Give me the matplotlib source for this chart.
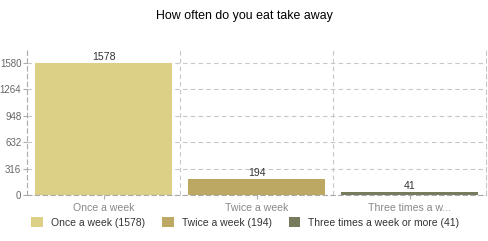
import matplotlib.pyplot as plt
import numpy as np
from matplotlib.patches import Patch

categories = ["Once a week", "Twice a week", "Three times a w..."]
legend_labels = ["Once a week (1578)", "Twice a week (194)", "Three times a week or more (41)"]
counts = [1578, 194, 41]
yticks = [0, 316, 632, 948, 1264, 1580]
colors = ["#DCCF86", "#BCA763", "#777A5C"]

plt.rcParams['font.family'] = ['Liberation Sans', 'DejaVu Sans']

fig = plt.figure(figsize=(4.89, 2.41), dpi=100)
ax = fig.add_axes([0.0552, 0.191, 0.9388, 0.61])

x = np.arange(len(counts))
bars = ax.bar(x, counts, width=0.9, color=colors, zorder=2)
for xi, v in zip(x, counts):
    ax.text(xi, v + 12, str(v), ha='center', va='bottom', fontsize=7.6, color='#333333', zorder=3)

ax.set_xlim(-0.5, len(counts) - 0.5)
ax.set_ylim(0, 1760)
ax.set_yticks(yticks)
ax.set_yticklabels([str(t) for t in yticks], fontsize=7.0, color='#666666')
ax.set_xticks(x)
ax.set_xticklabels(categories, fontsize=7.6, color='#888888')
ax.set_xticks(x[:-1] + 0.5, minor=True)
ax.tick_params(axis='x', which='minor', length=0)
ax.tick_params(axis='y', which='major', length=3, color='#aaaaaa', pad=1)
ax.tick_params(axis='x', which='major', length=3, color='#aaaaaa', pad=2.5)

ax.grid(axis='y', which='major', linestyle=(0, (4, 3)), color='#c8c8c8', linewidth=0.8, zorder=0)
ax.grid(axis='x', which='minor', linestyle=(0, (4, 3)), color='#c8c8c8', linewidth=0.8, zorder=0)

ax.spines['top'].set_visible(False)
for side in ['left', 'right', 'bottom']:
    ax.spines[side].set_linestyle((0, (4, 3)))
    ax.spines[side].set_color('#aaaaaa')
    ax.spines[side].set_linewidth(0.8)
ax.spines['right'].set_color('#c8c8c8')

fig.text(0.5, 0.935, "How often do you eat take away", ha='center', va='center', fontsize=8.9, color='black')

handles = [Patch(facecolor=c, edgecolor='none') for c in colors]
fig.legend(handles, legend_labels, loc='center', bbox_to_anchor=(0.502, 0.076), ncol=3, frameon=False,
           fontsize=7.5, handlelength=1.1, handleheight=1.1, handletextpad=0.8, columnspacing=1.6,
           labelcolor='#333333')

fig.savefig('out.png', dpi=100)
